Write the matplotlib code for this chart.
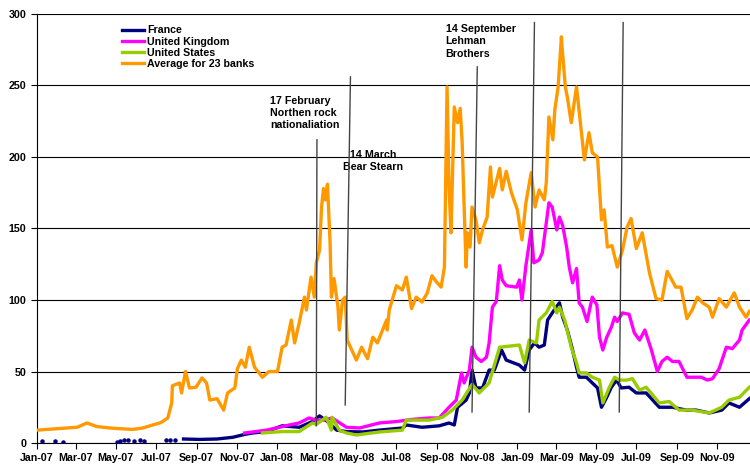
import pandas as pd
import matplotlib
matplotlib.use("Agg")
import matplotlib.pyplot as plt
import matplotlib.dates as mdates

plt.rcParams['font.family'] = ['Liberation Sans', 'DejaVu Sans']
plt.rcParams['font.weight'] = 'bold'

# Average for 23 banks
avg_dates = ["2007-01-01", "2007-01-31", "2007-03-03", "2007-03-18", "2007-04-02", "2007-04-22",
             "2007-05-07", "2007-05-27", "2007-06-11", "2007-06-26", "2007-07-07", "2007-07-11",
             "2007-07-19", "2007-07-25", "2007-07-26", "2007-08-06", "2007-08-09", "2007-08-15",
             "2007-08-21", "2007-08-31", "2007-09-09", "2007-09-16", "2007-09-21", "2007-10-02",
             "2007-10-12", "2007-10-18", "2007-10-29", "2007-11-02", "2007-11-08", "2007-11-14",
             "2007-11-20", "2007-11-28", "2007-12-10", "2007-12-20", "2008-01-02", "2008-01-09",
             "2008-01-15", "2008-01-23", "2008-01-28", "2008-02-04", "2008-02-12", "2008-02-15",
             "2008-02-22", "2008-02-27", "2008-03-01", "2008-03-06", "2008-03-09", "2008-03-12",
             "2008-03-15", "2008-03-18", "2008-03-22", "2008-03-24", "2008-03-28", "2008-04-03",
             "2008-04-05", "2008-04-10", "2008-04-14", "2008-04-17", "2008-05-01", "2008-05-09",
             "2008-05-18", "2008-05-26", "2008-06-02", "2008-06-16", "2008-06-17", "2008-06-20",
             "2008-07-01", "2008-07-10", "2008-07-16", "2008-07-24", "2008-07-31", "2008-08-09",
             "2008-08-17", "2008-08-24", "2008-08-31", "2008-09-07", "2008-09-12", "2008-09-16",
             "2008-09-19", "2008-09-22", "2008-09-27", "2008-10-02", "2008-10-06", "2008-10-09",
             "2008-10-12", "2008-10-15", "2008-10-17", "2008-10-21", "2008-10-24", "2008-10-30",
             "2008-11-04", "2008-11-09", "2008-11-16", "2008-11-21", "2008-11-24", "2008-12-05",
             "2008-12-09", "2008-12-15", "2008-12-23", "2009-01-01", "2009-01-08", "2009-01-14",
             "2009-01-22", "2009-01-28", "2009-02-03", "2009-02-11", "2009-02-14", "2009-02-18",
             "2009-02-24", "2009-02-27", "2009-03-04", "2009-03-09", "2009-03-10", "2009-03-15",
             "2009-03-18", "2009-03-24", "2009-04-01", "2009-04-08", "2009-04-13", "2009-04-20",
             "2009-04-25", "2009-05-03", "2009-05-09", "2009-05-13", "2009-05-18", "2009-05-25",
             "2009-06-02", "2009-06-10", "2009-06-17", "2009-06-23", "2009-07-01", "2009-07-10",
             "2009-07-21", "2009-07-31", "2009-08-09", "2009-08-17", "2009-08-30", "2009-09-07",
             "2009-09-16", "2009-09-24", "2009-10-02", "2009-10-10", "2009-10-20", "2009-10-25",
             "2009-11-04", "2009-11-15", "2009-11-27", "2009-12-05", "2009-12-15", "2009-12-20"]
avg_vals = [9, 10, 11, 14, 11.5, 10.5,
            10, 9.5, 10.5, 12.6, 14, 15,
            17.5, 28, 40, 42, 35, 50,
            38.5, 39, 45.5, 42, 30, 31,
            23, 35, 38.5, 52, 58, 53,
            67, 53, 46, 50, 50, 67,
            68.5, 86, 70, 84, 102, 93,
            116, 102, 126, 135, 165, 178,
            170, 181, 140, 102, 115, 95,
            79, 100, 102, 72, 58, 67,
            59, 74, 70, 86, 79, 93,
            110, 107, 116, 94, 102, 98.6,
            105, 117, 112.6, 109, 123, 249,
            179, 147, 235, 224, 234, 210,
            165, 123, 147, 137, 165, 156,
            140, 149, 158, 193, 172, 192,
            177, 190, 175, 163, 142, 168,
            189, 165, 177, 170, 182, 228,
            212, 233, 249, 284, 277, 249,
            242, 224, 249, 219, 198, 217,
            203, 200, 156, 163, 137, 138,
            123, 135, 151, 157, 136, 147,
            119, 101, 100, 120, 109, 109,
            87, 93, 102, 98, 95, 88,
            101, 95, 105, 95, 88, 92]

uk_dates = ["2007-11-13", "2007-11-25", "2007-12-16", "2008-01-05", "2008-01-20", "2008-02-04",
            "2008-02-19", "2008-03-01", "2008-03-13", "2008-03-25", "2008-04-16", "2008-05-06",
            "2008-06-05", "2008-07-01", "2008-07-25", "2008-08-20", "2008-09-04", "2008-09-15",
            "2008-09-19", "2008-09-30", "2008-10-08", "2008-10-12", "2008-10-20", "2008-10-24",
            "2008-10-30", "2008-11-07", "2008-11-15", "2008-11-19", "2008-11-24", "2008-11-30",
            "2008-12-05", "2008-12-09", "2008-12-15", "2008-12-31", "2009-01-04", "2009-01-08",
            "2009-01-14", "2009-01-22", "2009-01-26", "2009-02-03", "2009-02-08", "2009-02-14",
            "2009-02-18", "2009-02-23", "2009-03-02", "2009-03-06", "2009-03-11", "2009-03-17",
            "2009-03-21", "2009-03-26", "2009-04-01", "2009-04-05", "2009-04-10", "2009-04-17",
            "2009-04-25", "2009-05-02", "2009-05-06", "2009-05-11", "2009-05-17", "2009-05-24",
            "2009-05-29", "2009-06-02", "2009-06-10", "2009-06-20", "2009-06-28", "2009-07-06",
            "2009-07-14", "2009-07-24", "2009-08-02", "2009-08-09", "2009-08-17", "2009-08-25",
            "2009-09-04", "2009-09-16", "2009-09-27", "2009-10-08", "2009-10-17", "2009-10-25",
            "2009-11-04", "2009-11-15", "2009-11-24", "2009-12-05", "2009-12-09", "2009-12-20"]
uk_vals = [7, 7.7, 9, 11, 12.6, 14,
           17.5, 16, 16, 17.5, 11, 10.5,
           14, 15, 16.5, 17.5, 17.5, 23,
           25, 30, 49, 42, 51, 67,
           60, 57, 60, 70, 95, 99,
           124, 114, 110, 109, 114, 100,
           124, 149, 126, 128, 133, 154,
           168, 165, 149, 158, 152, 137,
           123, 112, 122, 98, 95, 85,
           102, 96.5, 74, 65, 74, 81,
           88, 85, 91, 90, 77, 72,
           79, 65, 50, 57, 60, 57,
           57, 46, 46, 46, 44, 45,
           52, 67, 66, 72, 79, 86]

us_dates = ["2007-12-10", "2008-01-09", "2008-02-04", "2008-02-24", "2008-03-01", "2008-03-16",
            "2008-03-24", "2008-03-25", "2008-04-05", "2008-04-16", "2008-05-01", "2008-06-05",
            "2008-07-10", "2008-07-16", "2008-08-20", "2008-09-09", "2008-09-24", "2008-10-09",
            "2008-10-24", "2008-11-04", "2008-11-19", "2008-12-05", "2009-01-04", "2009-01-12",
            "2009-01-19", "2009-01-30", "2009-02-03", "2009-02-14", "2009-02-23", "2009-03-02",
            "2009-03-06", "2009-03-14", "2009-03-24", "2009-04-01", "2009-04-05", "2009-04-16",
            "2009-04-25", "2009-05-06", "2009-05-11", "2009-05-21", "2009-05-29", "2009-06-05",
            "2009-06-16", "2009-06-25", "2009-07-06", "2009-07-16", "2009-08-05", "2009-08-20",
            "2009-09-04", "2009-09-24", "2009-10-20", "2009-11-08", "2009-11-19", "2009-12-05",
            "2009-12-20"]
us_vals = [7, 8, 8, 14, 13, 18,
           9, 18, 9, 7, 5.6, 7.7,
           9, 16, 16, 18, 23, 30,
           41, 35, 42, 67, 68.5, 56,
           72, 70, 86, 91, 99, 91,
           95, 86, 67, 56, 49, 49,
           46, 44, 28, 39, 46, 44,
           44, 45, 37, 39, 28, 29,
           23, 23, 21, 25, 30, 32,
           39]

fr_dates = ["2007-08-12", "2007-09-05", "2007-10-02", "2007-10-26", "2007-11-13", "2007-11-25",
            "2007-12-16", "2008-01-09", "2008-02-04", "2008-02-24", "2008-03-06", "2008-03-18",
            "2008-04-01", "2008-04-16", "2008-05-10", "2008-06-05", "2008-07-10", "2008-07-16",
            "2008-08-09", "2008-09-04", "2008-09-19", "2008-09-27", "2008-10-02", "2008-10-15",
            "2008-10-20", "2008-10-24", "2008-10-30", "2008-11-09", "2008-11-19", "2008-11-27",
            "2008-12-08", "2008-12-15", "2009-01-04", "2009-01-12", "2009-01-19", "2009-01-27",
            "2009-02-03", "2009-02-11", "2009-02-16", "2009-02-26", "2009-03-06", "2009-03-11",
            "2009-03-18", "2009-03-26", "2009-04-01", "2009-04-05", "2009-04-16", "2009-04-25",
            "2009-05-03", "2009-05-09", "2009-05-17", "2009-05-24", "2009-06-01", "2009-06-08",
            "2009-06-20", "2009-07-01", "2009-07-16", "2009-08-05", "2009-08-25", "2009-09-15",
            "2009-09-30", "2009-10-20", "2009-11-08", "2009-11-19", "2009-12-05", "2009-12-20"]
fr_vals = [2.8, 2.5, 2.8, 4, 6, 7,
           8, 12, 11, 15, 19, 15,
           9, 8, 7.7, 9, 10.5, 12.6,
           11, 12, 14, 12.6, 25, 30,
           35, 51, 38.5, 38.5, 51, 51,
           65, 58, 54.5, 51, 65, 70,
           67, 68.5, 86, 93, 98, 88,
           79, 65, 53, 46, 46, 42,
           38.5, 25, 32, 39, 44, 38.5,
           39, 35, 35, 25, 25, 23,
           23, 21, 23, 28, 25, 31]

# isolated France quotes in 2007
fr_dot_dates = ["2007-01-08", "2007-01-28", "2007-02-09", "2007-05-02", "2007-05-08", "2007-05-14",
                "2007-05-20", "2007-05-28", "2007-06-06", "2007-06-13", "2007-07-16", "2007-07-22",
                "2007-07-30"]
fr_dot_vals = [1.5, 1.5, 1, 1, 1.5, 2, 2, 1.5, 2, 1.5, 2, 2, 2]

# event lines: (top date, top value, bottom date, bottom value)
event_lines = [("2008-03-02", 212, "2008-03-01", 12),
               ("2008-04-22", 256, "2008-04-14", 26.6),
               ("2008-11-01", 263, "2008-10-24", 21.7),
               ("2009-01-27", 294, "2009-01-19", 21.7),
               ("2009-06-11", 294, "2009-06-05", 21.7)]

d = pd.to_datetime

fig = plt.figure(figsize=(7.5, 4.66), dpi=100)
ax = fig.add_axes([37 / 750, 23 / 466, 713 / 750, 429 / 466])

ax.plot(d(fr_dates), fr_vals, color='#000080', lw=2.4, label='France', zorder=3)
ax.plot(d(fr_dot_dates), fr_dot_vals, ls='none', marker='o', ms=2.2, color='#000080', zorder=3)
ax.plot(d(uk_dates), uk_vals, color='#FF00FF', lw=2.4, label='United Kingdom', zorder=4)
ax.plot(d(us_dates), us_vals, color='#99CC00', lw=2.4, label='United States', zorder=5)
ax.plot(d(avg_dates), avg_vals, color='#FF9900', lw=2.4, label='Average for 23 banks', zorder=6)

for t_date, t_val, b_date, b_val in event_lines:
    ax.plot(d([t_date, b_date]), [t_val, b_val], color='#444444', lw=1.0, zorder=7)

ax.text(d("2007-12-22"), 243, "17 February\nNorthen rock\nnationaliation",
        fontsize=7.7, fontweight='bold', ha='left', va='top', linespacing=1.3)
ax.text(d("2008-05-27"), 205, "14 March\nBear Stearn",
        fontsize=7.7, fontweight='bold', ha='center', va='top', linespacing=1.3)
ax.text(d("2008-09-14"), 293, "14 September\nLehman\nBrothers",
        fontsize=7.7, fontweight='bold', ha='left', va='top', linespacing=1.3)

ax.set_ylim(0, 300)
ax.set_xlim(d("2007-01-01"), d("2009-12-21"))
ax.set_yticks(range(0, 301, 50))
ax.yaxis.grid(True, color='black', lw=0.8)
ax.set_axisbelow(True)

ax.xaxis.set_major_locator(mdates.MonthLocator(bymonth=[1, 3, 5, 7, 9, 11]))
ax.xaxis.set_major_formatter(mdates.DateFormatter('%b-%y'))
ax.tick_params(axis='both', labelsize=7.7, direction='out', length=4, width=0.8)
for lab in ax.get_xticklabels() + ax.get_yticklabels():
    lab.set_fontweight('bold')

ax.spines['right'].set_visible(False)
ax.spines['top'].set_visible(False)
for s in ['left', 'bottom']:
    ax.spines[s].set_linewidth(0.8)

leg = ax.legend(loc='upper left', bbox_to_anchor=(117 / 750, 1 - 20 / 466),
                bbox_transform=fig.transFigure, frameon=False, fontsize=7.7,
                handlelength=2.0, handletextpad=0.3, labelspacing=0.12, borderpad=0)
for t in leg.get_texts():
    t.set_fontweight('bold')

fig.savefig("out.png", dpi=100)
